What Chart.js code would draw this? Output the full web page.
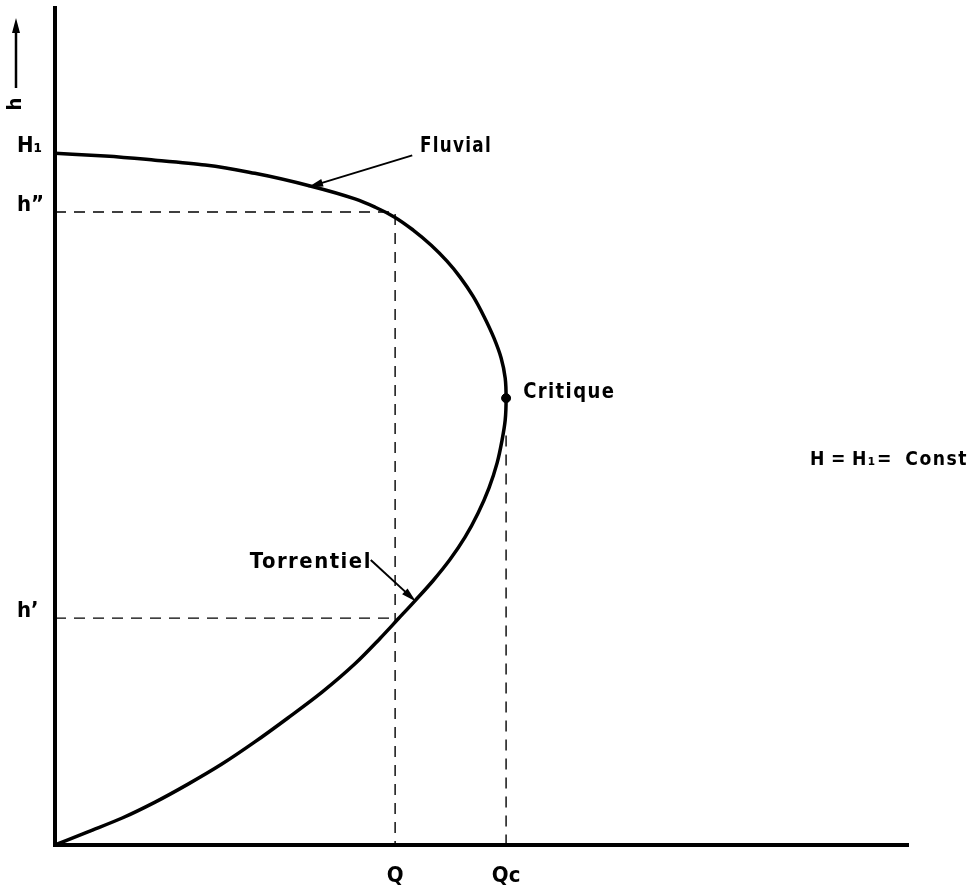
<!DOCTYPE html>
<html>
<head>
<meta charset="utf-8">
<script src="https://cdn.jsdelivr.net/npm/chart.js@4.4.1/dist/chart.umd.min.js"></script>
<style>
  html, body { margin: 0; padding: 0; background: #fff; }
  canvas { display: block; }
</style>
</head>
<body>
<canvas id="c" width="978" height="890"></canvas>
<script>
// Courbe h(Q) à charge constante H = H1 : débit rapporté à Qc, hauteur rapportée à H1
const curveQ = [0, 0.073, 0.149, 0.222, 0.295, 0.370, 0.443, 0.517, 0.592, 0.665, 0.721,
                0.761, 0.798, 0.838, 0.876, 0.909, 0.938, 0.962, 0.980, 0.991, 0.998, 1.0,
                0.998, 0.989, 0.973, 0.951, 0.927, 0.898, 0.869, 0.834, 0.794, 0.752,
                0.710, 0.665, 0.570, 0.443, 0.333, 0.222, 0.111, 0];
const curveH = [0, 0.019, 0.039, 0.062, 0.088, 0.117, 0.149, 0.184, 0.221, 0.262, 0.299,
                0.327, 0.353, 0.382, 0.413, 0.445, 0.480, 0.516, 0.552, 0.585, 0.614, 0.646,
                0.675, 0.704, 0.733, 0.764, 0.793, 0.821, 0.844, 0.867, 0.889, 0.908,
                0.922, 0.934, 0.952, 0.971, 0.983, 0.990, 0.996, 1.0];

// Points remarquables
const H1 = 1.0;
const hFluvial = 0.915;     // h''
const hTorrentiel = 0.328;  // h'
const qValue = 0.754;       // Q
const qCritique = 1.0;      // Qc
const hCritique = 0.646;
const qcGuideTop = 0.592;

// Graduations des axes
const yTickValues = [H1, hFluvial, hTorrentiel];
const yTickLabels = ['H\u2081', 'h\u201D', 'h\u2019'];
const xTickValues = [qValue, qCritique];
const xTickLabels = ['Q', 'Qc'];

const FONT = '"Liberation Sans Narrow", "DejaVu Sans Condensed", "Roboto", sans-serif';

const curveData = curveQ.map((q, i) => ({ x: q, y: curveH[i] }));

const dashed = {
  borderColor: '#000', borderWidth: 1.4, borderDash: [11, 8],
  pointRadius: 0, showLine: true, tension: 0, fill: false
};

// Flèches et textes d'annotation, placés en coordonnées des axes (largeur du texte en px)
const annotations = [
  { text: 'Fluvial', at: [0.809, 1.010], width: 72, size: 22, from: [0.792, 0.997], to: [0.561, 0.951] },
  { text: 'Torrentiel', at: [0.432, 0.408], width: 122, size: 22, from: [0.700, 0.412], to: [0.800, 0.352] },
  { text: 'Critique', at: [1.038, 0.655], width: 92, size: 22 },
  { text: 'H\u2009=\u2009H\u2081=\u2009 Const', at: [1.674, 0.556], width: 158, size: 19 }
];

function arrow(ctx, x1, y1, x2, y2, w) {
  const ang = Math.atan2(y2 - y1, x2 - x1);
  const len = 15, half = 4;
  ctx.save();
  ctx.strokeStyle = '#000';
  ctx.fillStyle = '#000';
  ctx.lineWidth = w || 2;
  ctx.beginPath();
  ctx.moveTo(x1, y1);
  ctx.lineTo(x2 - Math.cos(ang) * len * 0.8, y2 - Math.sin(ang) * len * 0.8);
  ctx.stroke();
  ctx.beginPath();
  ctx.moveTo(x2, y2);
  ctx.lineTo(x2 - Math.cos(ang) * len - Math.sin(ang) * half, y2 - Math.sin(ang) * len + Math.cos(ang) * half);
  ctx.lineTo(x2 - Math.cos(ang) * len + Math.sin(ang) * half, y2 - Math.sin(ang) * len - Math.cos(ang) * half);
  ctx.closePath();
  ctx.fill();
  ctx.restore();
}

const annotationPlugin = {
  id: 'annotations',
  afterDraw(chart) {
    const { ctx, scales: { x, y }, chartArea } = chart;
    for (const a of annotations) {
      ctx.save();
      ctx.fillStyle = '#000';
      ctx.textBaseline = 'middle';
      ctx.textAlign = 'left';
      ctx.font = `bold ${a.size}px ${FONT}`;
      ctx.letterSpacing = '1.5px';
      const m = ctx.measureText(a.text).width;
      ctx.translate(x.getPixelForValue(a.at[0]), y.getPixelForValue(a.at[1]));
      ctx.scale(a.width / m, 1);
      ctx.fillText(a.text, 0, 0);
      ctx.restore();
      if (a.from) {
        arrow(ctx, x.getPixelForValue(a.from[0]), y.getPixelForValue(a.from[1]),
                   x.getPixelForValue(a.to[0]), y.getPixelForValue(a.to[1]));
      }
    }
    // Titre de l'axe vertical : h avec flèche montante
    const ax = chartArea.left - 39;
    arrow(ctx, ax, chartArea.top + 80, ax, chartArea.top + 10, 2.5);
    ctx.save();
    ctx.fillStyle = '#000';
    ctx.translate(ax, chartArea.top + 96);
    ctx.rotate(-Math.PI / 2);
    ctx.textAlign = 'center';
    ctx.textBaseline = 'middle';
    ctx.font = `bold 20px ${FONT}`;
    ctx.fillText('h', 0, 0);
    ctx.restore();
  }
};

new Chart(document.getElementById('c'), {
  type: 'scatter',
  data: {
    datasets: [
      // h croît tout le long de la courbe : interpolation monotone suivant l'axe h
      { data: curveData, showLine: true, borderColor: '#000', borderWidth: 3.5,
        pointRadius: 0, indexAxis: 'y', cubicInterpolationMode: 'monotone', fill: false },
      { ...dashed, data: [{ x: 0, y: hFluvial }, { x: qValue, y: hFluvial }, { x: qValue, y: 0 }] },
      { ...dashed, data: [{ x: 0, y: hTorrentiel }, { x: qValue, y: hTorrentiel }] },
      { ...dashed, data: [{ x: qCritique, y: qcGuideTop }, { x: qCritique, y: 0 }] },
      { data: [{ x: qCritique, y: hCritique }], pointRadius: 4.5, pointBackgroundColor: '#000',
        pointBorderColor: '#000', showLine: false }
    ]
  },
  options: {
    responsive: false,
    animation: false,
    layout: { padding: { left: 17, right: 70, top: 8, bottom: 0 } },
    plugins: { legend: { display: false }, tooltip: { enabled: false } },
    scales: {
      x: {
        type: 'linear', min: 0, max: 1.891,
        grid: { display: false, drawTicks: false },
        border: { display: true, color: '#000', width: 4 },
        afterBuildTicks: s => { s.ticks = xTickValues.map(v => ({ value: v })); },
        afterFit: s => { s.height = 45; s.paddingLeft = 0; s.paddingRight = 0; },
        ticks: {
          callback: (v, i) => xTickLabels[i],
          padding: 18, color: '#000', autoSkip: false, maxRotation: 0,
          font: { family: FONT, size: 22, weight: 'bold' }
        }
      },
      y: {
        type: 'linear', min: 0, max: 1.21,
        grid: { display: false, drawTicks: false },
        border: { display: true, color: '#000', width: 4 },
        afterBuildTicks: s => { s.ticks = yTickValues.map(v => ({ value: v })); },
        afterFit: s => { s.width = 38; s.paddingTop = 0; s.paddingBottom = 0; },
        ticks: {
          callback: (v, i) => yTickLabels[i],
          crossAlign: 'far', labelOffset: -7, padding: 10, color: '#000', autoSkip: false,
          font: { family: FONT, size: 22, weight: 'bold' }
        }
      }
    }
  },
  plugins: [annotationPlugin]
});
</script>
</body>
</html>
